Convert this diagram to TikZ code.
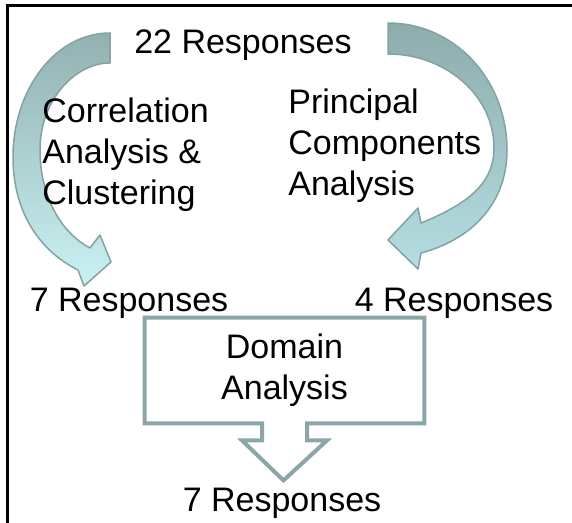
\documentclass[tikz,border=0pt]{standalone}
\usepackage{fontspec}
\setmainfont{Liberation Sans}
\usetikzlibrary{calc}
\definecolor{bandtop}{RGB}{146,177,177}
\definecolor{bandlow}{RGB}{202,241,243}
\definecolor{bandtopr}{RGB}{142,172,172}
\definecolor{bandlowr}{RGB}{180,222,226}
\definecolor{bandline}{RGB}{132,162,164}
\definecolor{boxline}{RGB}{140,166,168}

\begin{document}
\begin{tikzpicture}[x=0.5pt,y=-0.5pt,
  lbl/.style={font=\fontsize{17}{20.5}\selectfont,inner sep=0pt},
  band/.style={draw=bandline,line width=0.75pt,line join=round},
  domainbox/.style={lbl,align=center,minimum width=139.5pt,minimum height=52.5pt}]
  \useasboundingbox (0,0) rectangle (572,523);
  % frame (top and left only)
  \draw[line width=1.5pt] (7,523) -- (7,6) -- (572,6);

  % curved arrow, left
  \draw[band,top color=bandtop,bottom color=bandlow]
    (110,33) .. controls (55,33) and (13,90) .. (13,157)
    .. controls (13,215) and (42,252) .. (78,270)
    -- (84,286) -- (111,262) -- (100,235) -- (90,248)
    .. controls (60,232) and (40,195) .. (40,150)
    .. controls (40,100) and (75,63) .. (110,63) -- cycle;

  % curved arrow, right
  \draw[band,top color=bandtopr,middle color=bandtopr!60!bandlowr,bottom color=bandlowr]
    (388,23) .. controls (455,23) and (507,80) .. (507,150)
    .. controls (507,205) and (470,240) .. (421,253)
    -- (418,269) -- (388,240) -- (418,208) -- (421,223)
    .. controls (465,205) and (494,185) .. (494,148)
    .. controls (494,95) and (445,54) .. (388,54) -- cycle;

  \node[lbl,anchor=base] (resp22) at (243,54) {22 Responses};
  \node[lbl,anchor=north west,align=left] (corr) at (42,97)
    {Correlation\\Analysis \&\\Clustering};
  \node[lbl,anchor=north west,align=left] (pca) at (288,88)
    {Principal\\Components\\Analysis};
  \node[lbl,anchor=base] (resp7a) at (129,312) {7 Responses};
  \node[lbl,anchor=base] (resp4) at (454,312) {4 Responses};

  % domain box with block arrow
  \node[domainbox] (domain) at (284.5,370.5) {Domain\\Analysis};
  \draw[boxline,line width=2pt,line join=miter]
    (domain.north west) -- (domain.north east) -- (domain.south east)
    -- ($(domain.south)+(22.5,0)$) -- ($(domain.south)+(22.5,17)$)
    -- ($(domain.south)+(42.5,17)$) -- ($(domain.south)+(-1,57)$)
    -- ($(domain.south)+(-42.5,17)$) -- ($(domain.south)+(-22.5,17)$)
    -- ($(domain.south)+(-22.5,0)$) -- (domain.south west) -- cycle;

  \node[lbl,anchor=base] (resp7b) at (282,511) {7 Responses};
\end{tikzpicture}
\end{document}
